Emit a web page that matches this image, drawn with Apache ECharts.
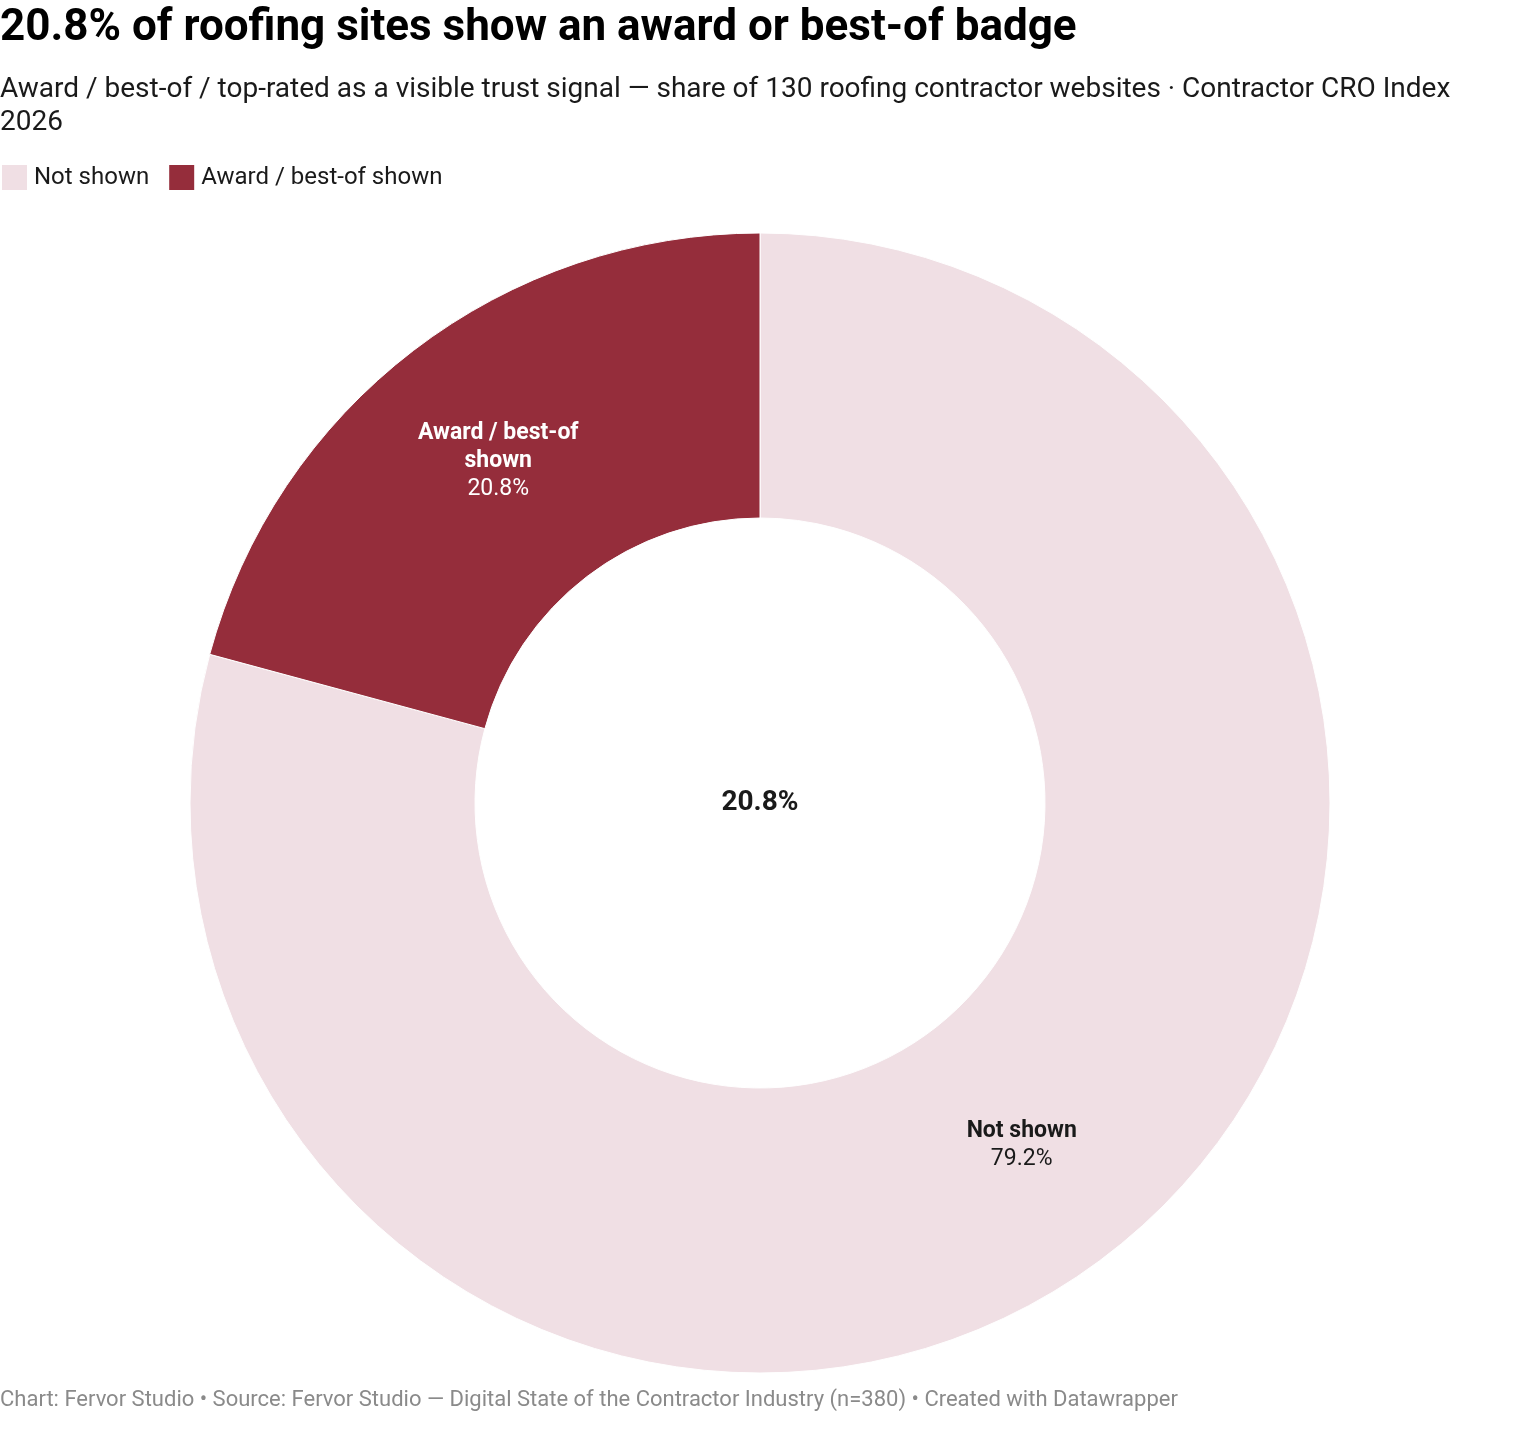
<!DOCTYPE html>
<html><head><meta charset="utf-8">
<script src="https://cdn.jsdelivr.net/npm/echarts@6/dist/echarts.min.js"></script>
<style>html,body{margin:0;padding:0;background:#fff}#c{width:1520px;height:1440px}</style>
</head><body><div id="c"></div>
<script>
const categories = ["Not shown", "Award / best-of shown"];
const values = [79.2, 20.8];
const colors = ["#f0dfe4", "#952d3b"];
const labelColors = ["#1a1a1a", "#ffffff"];
const centerLabel = "20.8%";
const titleText = "20.8% of roofing sites show an award or best-of badge";
const subtitleText = "Award / best-of / top-rated as a visible trust signal — share of 130 roofing contractor websites · Contractor CRO Index\n2026";
const footerText = "Chart: Fervor Studio • Source: Fervor Studio — Digital State of the Contractor Industry (n=380) • Created with Datawrapper";

function wrapWords(s, maxChars) {
  const words = s.split(' ');
  const lines = [];
  let cur = '';
  words.forEach(w => {
    const t = cur ? cur + ' ' + w : w;
    if (t.length > maxChars && cur) { lines.push(cur); cur = w; } else { cur = t; }
  });
  if (cur) lines.push(cur);
  return lines;
}

const chart = echarts.init(document.getElementById('c'), null, {renderer: 'canvas'});
const font = 'Roboto, sans-serif';
chart.setOption({
  backgroundColor: '#fff',
  animation: false,
  title: [
    {text: titleText, left: 0, top: 5, padding: 0,
     textStyle: {fontFamily: font, fontSize: 44, fontWeight: 'bold', color: '#000', lineHeight: 48}},
    {text: subtitleText, left: 0, top: 73, padding: 0,
     textStyle: {fontFamily: font, fontSize: 28, fontWeight: 'normal', color: '#1a1a1a', lineHeight: 33}},
    {text: footerText, left: 0, top: 1388, padding: 0,
     textStyle: {fontFamily: font, fontSize: 22, fontWeight: 'normal', color: '#8a8a8a', lineHeight: 24}},
    {text: centerLabel, left: 760, top: 803, textAlign: 'center', textVerticalAlign: 'middle', padding: 0,
     textStyle: {fontFamily: font, fontSize: 28, fontWeight: 'bold', color: '#1a1a1a'}}
  ],
  legend: {
    left: 0, top: 163, padding: 0, itemGap: 18, itemWidth: 27, itemHeight: 27,
    icon: 'rect', selectedMode: false,
    textStyle: {fontFamily: font, fontSize: 24, color: '#1a1a1a', padding: [0, 0, 0, 1]},
    data: categories
  },
  series: [{
    type: 'pie',
    center: [760, 803],
    radius: [285, 570],
    startAngle: 90,
    clockwise: true,
    avoidLabelOverlap: false,
    itemStyle: {borderColor: '#fff', borderWidth: 1},
    label: {
      show: true, position: 'inside',
      formatter: p => wrapWords(p.name, 16).map(l => '{n|' + l + '}').join('\n') + '\n{v|' + p.value.toFixed(1) + '%}',
      rich: {
        n: {fontFamily: font, fontSize: 23, fontWeight: 'bold', lineHeight: 28},
        v: {fontFamily: font, fontSize: 23, fontWeight: 'normal', lineHeight: 28}
      }
    },
    labelLine: {show: false},
    emphasis: {disabled: true},
    data: categories.map((c, i) => ({
      name: c, value: values[i],
      itemStyle: {color: colors[i]},
      label: {color: labelColors[i], rich: {n: {color: labelColors[i]}, v: {color: labelColors[i]}}}
    }))
  }]
});
</script></body></html>
